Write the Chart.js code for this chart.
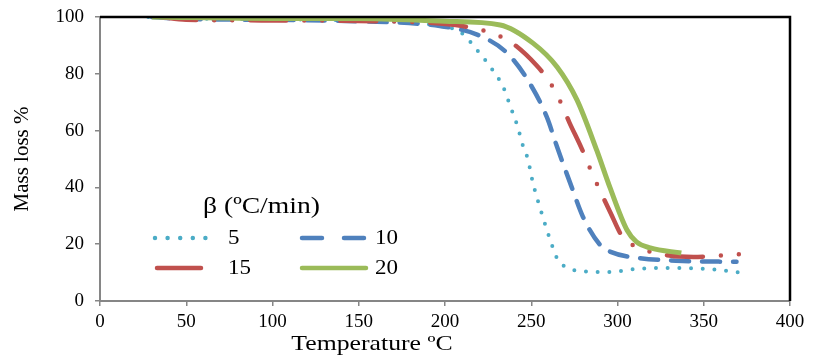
<!DOCTYPE html>
<html>
<head>
<meta charset="utf-8">
<script src="https://cdn.jsdelivr.net/npm/chart.js"></script>
<style>
  html, body { margin: 0; padding: 0; background: #fff; }
  #wrap { width: 813px; height: 356px; }
</style>
</head>
<body>
<div id="wrap"><canvas id="chart" width="813" height="356"></canvas></div>
<script>
// heating rates (legend labels)
const rates = ['5', '10', '15', '20'];

// temperature (ºC) / mass (%)
const temp5 = [28, 50, 100, 150, 180, 200, 209, 220, 228, 234, 238, 242, 245, 248, 251, 256, 261, 265.5, 270, 277, 296, 311, 329, 352, 373];
const mass5 = [100, 99.5, 99.2, 98.8, 98, 96.5, 94.7, 87.3, 81, 75, 68.3, 61.6, 55, 50, 41.5, 31, 21.5, 14.4, 12, 10.6, 10.2, 11.3, 11.6, 11.3, 9.9];

const temp10 = [30, 50, 100, 150, 197, 219, 236, 249, 259, 265, 273.5, 280, 290, 296, 313, 338, 369];
const mass10 = [100, 99.3, 99, 98.5, 96.8, 93.7, 87.3, 76.8, 64.8, 54.2, 40, 29.6, 19.7, 17.3, 15.1, 14.1, 13.8];

const temp15 = [35, 50, 100, 150, 190, 210, 225, 238, 253, 261, 267, 272, 279, 285, 290, 296, 303, 313, 330, 344, 371];
const mass15 = [100, 99, 98.8, 98.6, 98, 96.8, 94.7, 91.2, 83, 76.8, 70, 63, 54, 45.4, 38.7, 31, 22.5, 18.7, 16, 15.5, 16.5];

const temp20 = [30, 100, 150, 200, 232, 251, 265, 276.5, 288, 295.6, 305.5, 311, 319, 337];
const mass20 = [100, 99.5, 99.5, 98.5, 97.2, 90.8, 82.4, 70.8, 53, 40, 25, 20.8, 18.7, 16.9];

const xTicks = [0, 50, 100, 150, 200, 250, 300, 350, 400];
const yTicks = [0, 20, 40, 60, 80, 100];

const colors = ['#4BACC6', '#4F81BD', '#C0504D', '#9BBB59'];
const serif = '"Liberation Serif", "Times New Roman", serif';

function pts(xs, ys) { return xs.map((x, i) => ({ x: x, y: ys[i] })); }

// text drawn a little wider, like the stretched original
function wideText(ctx, txt, x, y, sx) {
  ctx.save();
  ctx.translate(x, y);
  ctx.scale(sx, 1);
  ctx.fillText(txt, 0, 0);
  ctx.restore();
}

const legendPlugin = {
  id: 'extras',
  afterDraw(chart) {
    const ctx = chart.ctx;
    const a = chart.chartArea;
    ctx.save();
    // black frame on top and right
    ctx.strokeStyle = '#000';
    ctx.lineWidth = 2.5;
    ctx.beginPath();
    ctx.moveTo(a.left, a.top);
    ctx.lineTo(a.right, a.top);
    ctx.lineTo(a.right, a.bottom);
    ctx.stroke();

    // x title (sits left of centre in the original)
    ctx.fillStyle = '#000';
    ctx.font = '22px ' + serif;
    ctx.textAlign = 'center';
    ctx.textBaseline = 'middle';
    wideText(ctx, 'Temperature ºC', 372, 344, 1.17);

    // legend
    ctx.textAlign = 'left';
    ctx.font = '23px ' + serif;
    wideText(ctx, 'β (ºC/min)', 203, 207, 1.2);
    ctx.font = '20px ' + serif;
    const items = [
      { x: 155, y: 238, len: 63, dash: [0, 12.6], w: 4.5 },
      { x: 302, y: 238, len: 63, dash: [20, 22], w: 4.5 },
      { x: 157, y: 268, len: 44, dash: [], w: 4.5 },
      { x: 302, y: 268, len: 64, dash: [], w: 4.5 }
    ];
    items.forEach((it, i) => {
      ctx.strokeStyle = colors[i];
      ctx.lineWidth = it.w;
      ctx.lineCap = 'round';
      ctx.setLineDash(it.dash);
      ctx.beginPath();
      ctx.moveTo(it.x, it.y);
      ctx.lineTo(it.x + it.len, it.y);
      ctx.stroke();
      wideText(ctx, rates[i], i % 2 === 0 ? 228 : 375, it.y + 1, 1.15);
    });
    ctx.restore();
  }
};

new Chart(document.getElementById('chart'), {
  type: 'line',
  data: {
    datasets: [
      { label: rates[0], data: pts(temp5, mass5), borderColor: colors[0], borderWidth: 4, borderDash: [0, 11.7], borderCapStyle: 'round', order: 4 },
      { label: rates[1], data: pts(temp10, mass10), borderColor: colors[1], borderWidth: 4.5, borderDash: [18, 13], borderCapStyle: 'round', order: 3 },
      { label: rates[2], data: pts(temp15, mass15), borderColor: colors[2], borderWidth: 4.5, borderDash: [36, 18, 0, 18, 0, 18], borderCapStyle: 'round', order: 2 },
      { label: rates[3], data: pts(temp20, mass20), borderColor: colors[3], borderWidth: 5, order: 1 }
    ]
  },
  options: {
    responsive: false,
    animation: false,
    elements: { point: { radius: 0 }, line: { tension: 0.4, cubicInterpolationMode: 'monotone', fill: false } },
    layout: { padding: { left: 0, top: 17, right: 23, bottom: 0 } },
    plugins: { legend: { display: false }, tooltip: { enabled: false } },
    scales: {
      x: {
        type: 'linear',
        min: 0, max: 400,
        afterBuildTicks: s => { s.ticks = xTicks.map(v => ({ value: v })); },
        afterFit: s => { s.height = 55; s.paddingLeft = 0; s.paddingRight = 0; },
        grid: { drawOnChartArea: false, drawTicks: true, tickLength: 5, color: '#868686', lineWidth: 1.5 },
        border: { color: '#868686', width: 2 },
        ticks: { color: '#000', font: { family: serif, size: 19 }, padding: 5, maxRotation: 0 },
        title: { display: false }
      },
      y: {
        min: 0, max: 100,
        afterBuildTicks: s => { s.ticks = yTicks.map(v => ({ value: v })); },
        afterFit: s => { s.width = 100; s.paddingTop = 0; s.paddingBottom = 0; },
        grid: { drawOnChartArea: false, drawTicks: true, tickLength: 5, color: '#868686', lineWidth: 1.5 },
        border: { color: '#868686', width: 2 },
        ticks: { color: '#000', font: { family: serif, size: 19 }, padding: 11 },
        title: { display: true, text: 'Mass loss %', color: '#000', font: { family: serif, size: 21 }, padding: { top: 10, bottom: 0 } }
      }
    }
  },
  plugins: [legendPlugin]
});
</script>
</body>
</html>
